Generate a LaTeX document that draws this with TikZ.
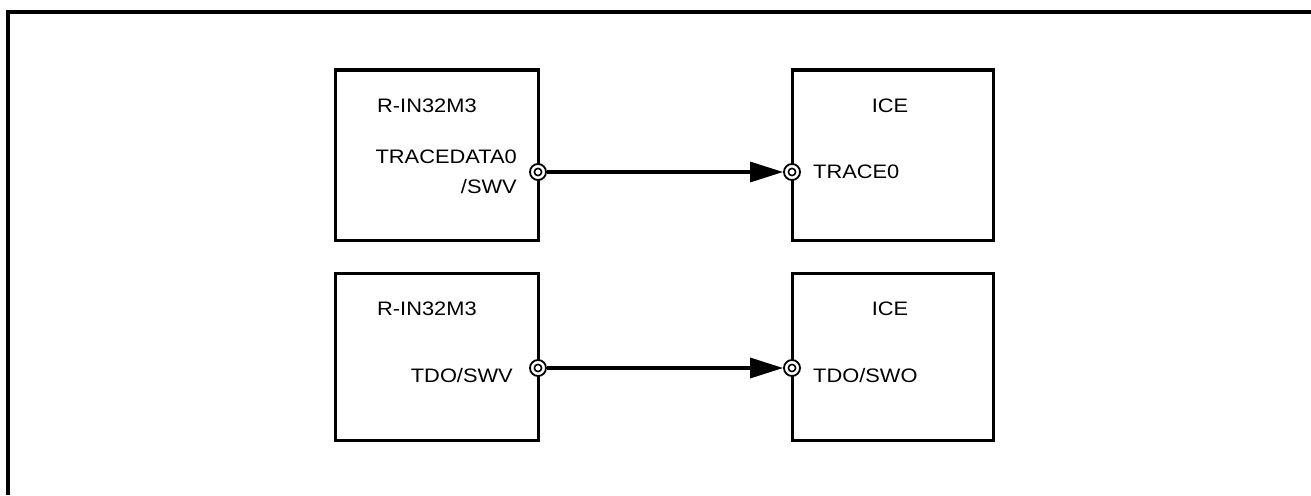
\documentclass[tikz,border=0pt]{standalone}
\usepackage{fontspec}
\setmainfont{Liberation Sans}[FakeStretch=1.12]
\usetikzlibrary{arrows.meta}
\tikzset{
  frameline/.style={line width=3.3pt},
  blockbox/.style={draw, line width=3pt, minimum width=203pt, inner sep=0pt},
  pin/.style={circle, draw, fill=white, line width=1.8pt, minimum size=16pt, inner sep=0pt,
    path picture={\draw[line width=1.6pt] (path picture bounding box.center) circle (3.6pt);}},
  lbl/.style={inner sep=0pt, font=\fontsize{19.5}{24}\selectfont},
  sig/.style={line width=3.3pt, -{Triangle[length=33pt,width=20pt]}}
}
\begin{document}
\begin{tikzpicture}[x=1pt,y=-1pt]
\useasboundingbox (0,0) rectangle (1311,495);
% outer frame (partial)
\coordinate (fbl) at (8,495);
\coordinate (ftl) at (8,12);
\coordinate (ftr) at (1311,12);
\draw[frameline] (fbl) -- (ftl) -- (ftr);
% boxes
\node[blockbox, minimum height=170pt] (ra) at (436.5,155) {};
\node[blockbox, minimum height=170pt, minimum width=201pt] (ia) at (892.5,155) {};
\node[blockbox, minimum height=167pt] (rb) at (436.5,356.5) {};
\node[blockbox, minimum height=167pt, minimum width=201pt] (ib) at (892.5,356.5) {};
% labels
\node[lbl, anchor=base west] (ra1) at (377,112) {R-IN32M3};
\node[lbl, anchor=base east] (ra2) at (517,163) {TRACEDATA0};
\node[lbl, anchor=base east] (ra3) at (517,193) {/SWV};
\node[lbl, anchor=base] (ia1) at (890,112) {ICE};
\node[lbl, anchor=base west] (ia2) at (813,178) {TRACE0};
\node[lbl, anchor=base west] (rb1) at (377,315) {R-IN32M3};
\node[lbl, anchor=base east] (rb2) at (513,382) {TDO/SWV};
\node[lbl, anchor=base] (ib1) at (890,315) {ICE};
\node[lbl, anchor=base west] (ib2) at (813,382) {TDO/SWO};
% pins
\node[pin] (pa1) at (538,172) {};
\node[pin] (pa2) at (792,172) {};
\node[pin] (pb1) at (538,368) {};
\node[pin] (pb2) at (792,368) {};
% connectors
\draw[sig] (pa1) -- (pa2);
\draw[sig] (pb1) -- (pb2);
\end{tikzpicture}
\end{document}
